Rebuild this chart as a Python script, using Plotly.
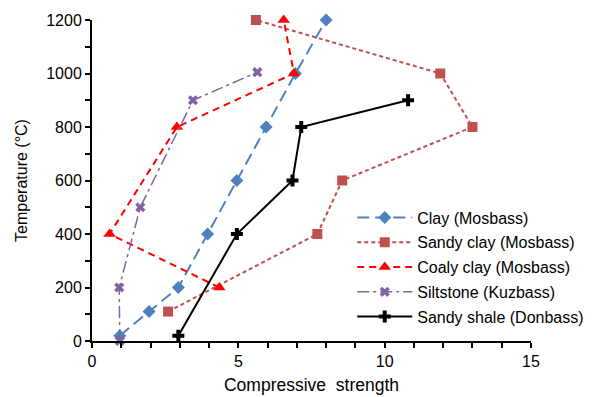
import plotly.graph_objects as go

clay_x = [0.95, 1.95, 2.95, 3.95, 4.95, 5.95, 6.95, 8.0]
clay_y = [20, 110, 200, 400, 600, 800, 1000, 1200]

sandy_clay_x = [2.6, 7.7, 8.55, 13.0, 11.9, 5.6]
sandy_clay_y = [110, 400, 600, 800, 1000, 1200]

coaly_clay_x = [4.35, 0.6, 2.9, 6.9, 6.55]
coaly_clay_y = [200, 400, 800, 1000, 1200]

siltstone_x = [0.95, 0.93, 1.65, 3.45, 5.65]
siltstone_y = [0, 200, 500, 900, 1005]

sandy_shale_x = [2.95, 4.95, 6.85, 7.15, 10.8]
sandy_shale_y = [20, 400, 600, 800, 900]

FONT = "Liberation Sans, Arial"

fig = go.Figure()
fig.add_trace(go.Scatter(x=clay_x, y=clay_y, name="Clay (Mosbass)", mode="lines+markers", legendgroup="a",
                         line=dict(color="#4F81BD", width=2, dash="12px,6px"),
                         marker=dict(symbol="diamond", size=10, color="#4F81BD"), cliponaxis=False))
fig.add_trace(go.Scatter(x=sandy_clay_x, y=sandy_clay_y, name="Sandy clay (Mosbass)", mode="lines+markers", legendgroup="b",
                         line=dict(color="#C0504D", width=2, dash="4px,3px"),
                         marker=dict(symbol="square", size=10, color="#C0504D"), cliponaxis=False))
fig.add_trace(go.Scatter(x=coaly_clay_x, y=coaly_clay_y, name="Coaly clay (Mosbass)", mode="lines+markers", legendgroup="c",
                         line=dict(color="#FF0000", width=2, dash="7px,5px"),
                         marker=dict(symbol="triangle-up", size=11, color="#FF0000"), cliponaxis=False))
fig.add_trace(go.Scatter(x=siltstone_x, y=siltstone_y, name="Siltstone (Kuzbass)", mode="lines+markers", legendgroup="d",
                         line=dict(color="#8064A2", width=1.5, dash="12px,4px,3px,4px"),
                         marker=dict(symbol="x", size=9, color="#8064A2"), cliponaxis=False))
fig.add_trace(go.Scatter(x=sandy_shale_x, y=sandy_shale_y, name="Sandy shale (Donbass)", mode="lines+markers", legendgroup="e",
                         line=dict(color="black", width=2),
                         marker=dict(symbol="cross", size=10, color="black"), cliponaxis=False))

axis_common = dict(showline=True, linecolor="black", linewidth=2, ticks="outside", ticklen=5,
                   tickwidth=1.5, tickcolor="black", showgrid=False, zeroline=False,
                   tickfont=dict(family=FONT, size=16, color="black"))

fig.update_xaxes(range=[0, 15], tickvals=[0, 5, 10, 15],
                 minor=dict(ticks="outside", ticklen=5, tickwidth=1.5, tickcolor="black", dtick=1, tick0=0),
                 title=dict(text="Compressive  strength", font=dict(family=FONT, size=17.5, color="black"), standoff=10),
                 **axis_common)
fig.update_yaxes(range=[0, 1200], tickvals=[0, 200, 400, 600, 800, 1000, 1200],
                 minor=dict(ticks="outside", ticklen=5, tickwidth=1.5, tickcolor="black", dtick=100, tick0=0),
                 title=dict(text="Temperature (°C)", font=dict(family=FONT, size=16, color="black"), standoff=15),
                 **axis_common)

fig.update_layout(
    width=592, height=397,
    margin=dict(l=92, r=61, t=20, b=56, autoexpand=False),
    paper_bgcolor="white", plot_bgcolor="white",
    showlegend=True,
    legend=dict(xref="container", yref="container", x=0.595, y=0.495, xanchor="left", yanchor="top",
                bgcolor="rgba(0,0,0,0)",
                font=dict(family=FONT, size=16, color="black"),
                itemwidth=55, tracegroupgap=1),
)

fig.write_html("out.html")
